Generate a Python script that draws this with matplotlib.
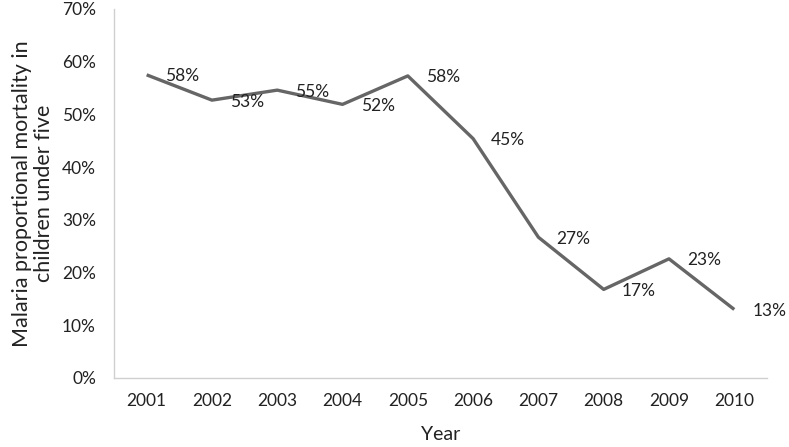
import numpy as np
import matplotlib.pyplot as plt
from matplotlib.ticker import PercentFormatter

plt.rcParams['font.family'] = ['Lato', 'DejaVu Sans']

years = ['2001', '2002', '2003', '2004', '2005', '2006', '2007', '2008', '2009', '2010']
mortality = [57.5, 52.7, 54.6, 51.9, 57.3, 45.4, 26.7, 16.8, 22.6, 13.0]
labels = ['58%', '53%', '55%', '52%', '58%', '45%', '27%', '17%', '23%', '13%']

fig = plt.figure(figsize=(7.89, 4.47), dpi=100)
ax = fig.add_axes([0.1445, 0.1544, 0.8275, 0.8256])

x = np.arange(1, len(years) + 1)
ax.plot(x, mortality, color='#666666', lw=2.4, solid_capstyle='butt')
for xi, yi, lab in zip(x, mortality, labels):
    ax.annotate(lab, (xi, yi), xytext=(13, -1), textcoords='offset points',
                ha='left', va='center', fontsize=12.5, color='#222222')

ax.set_xlim(0.5, 10.5)
ax.set_ylim(0, 70)
ax.set_yticks(np.arange(0, 71, 10))
ax.yaxis.set_major_formatter(PercentFormatter(decimals=0))
ax.set_xticks(x)
ax.set_xticklabels(years)
ax.tick_params(length=0, labelsize=12.5, colors='#222222')
ax.tick_params(axis='x', pad=11)
ax.tick_params(axis='y', pad=13)
for s in ['top', 'right']:
    ax.spines[s].set_visible(False)
for s in ['left', 'bottom']:
    ax.spines[s].set_color('#d0d0d0')
    ax.spines[s].set_linewidth(1)

ax.set_xlabel('Year', fontsize=14, color='#222222', labelpad=12)
ax.set_ylabel('Malaria proportional mortality in\nchildren under five', fontsize=15.5,
              color='#222222', labelpad=6, linespacing=1.1)

fig.savefig('out.png', dpi=100)
